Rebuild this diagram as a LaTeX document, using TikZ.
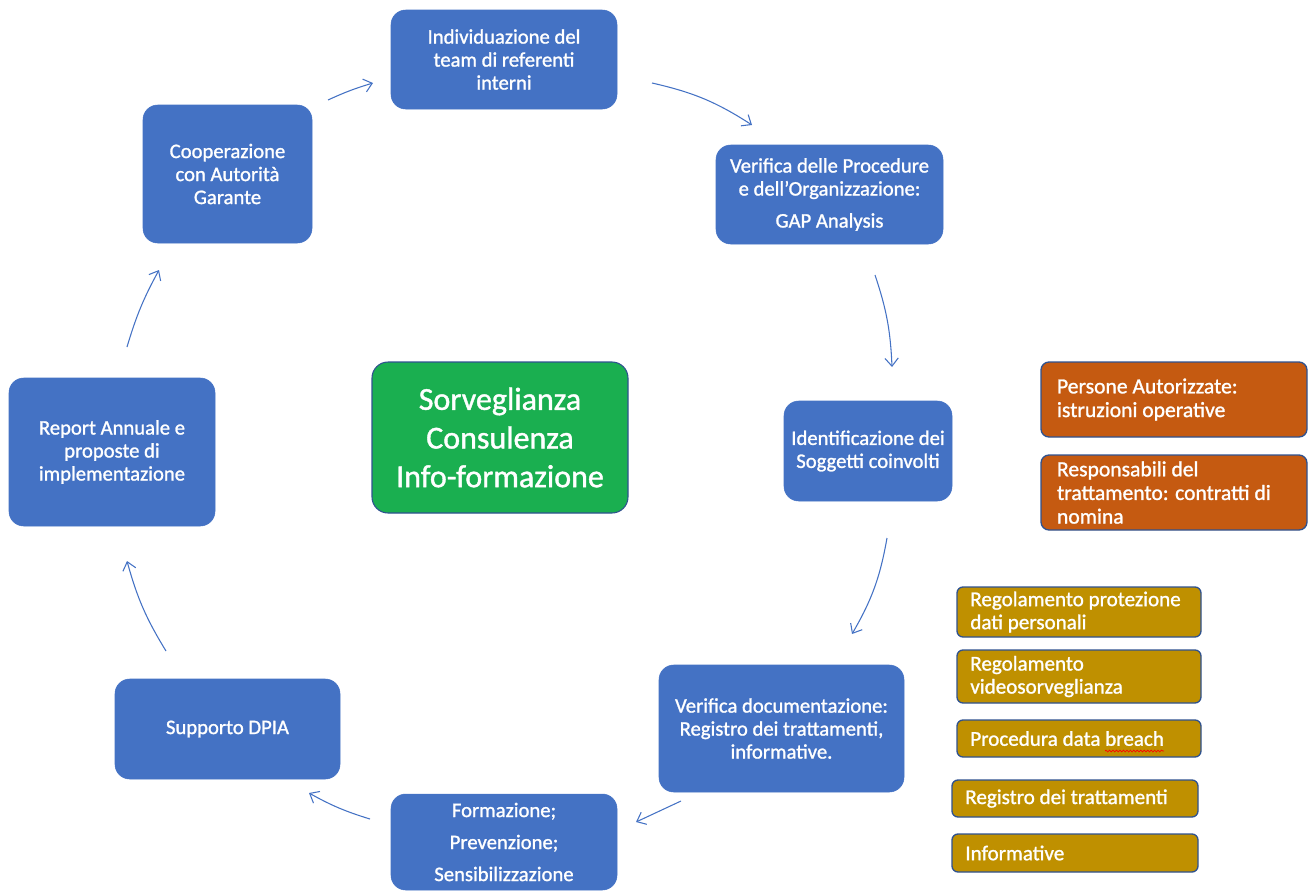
\documentclass[tikz,border=0pt]{standalone}
\usepackage{fontspec}
\setmainfont{Carlito}
\newfontfamily\boxfont[FakeBold=1.2]{Carlito}
\usetikzlibrary{arrows.meta,decorations.pathmorphing}
\definecolor{bblue}{HTML}{4472C4}
\definecolor{bline}{HTML}{2F528F}
\definecolor{ggreen}{HTML}{1AAF50}
\definecolor{oorange}{HTML}{C55A11}
\definecolor{ggold}{HTML}{BF9000}
\tikzset{
  bbox/.style={fill=bblue, draw=bblue, rounded corners=11pt, text=white, align=center,
    font=\boxfont\fontsize{15.5}{17.25}\selectfont, inner sep=2pt},
  gbox/.style={fill=ggreen, draw=bline, line width=0.8pt, rounded corners=12pt, text=white, align=center,
    font=\boxfont\fontsize{24}{29}\selectfont},
  obox/.style={fill=oorange, draw=bline, line width=1pt, rounded corners=6pt, text=white, align=flush left,
    font=\boxfont\fontsize{16.2}{17.75}\selectfont, inner xsep=12pt, inner ysep=2pt, text width=175.5pt,
    minimum width=199.5pt, execute at begin node={\spaceskip=0pt\xspaceskip=0pt}},
  kbox/.style={fill=ggold, draw=bline, line width=1pt, rounded corners=4.5pt, text=white, align=flush left,
    font=\boxfont\fontsize{15.8}{17.25}\selectfont, inner xsep=10pt, inner ysep=1pt,
    execute at begin node={\spaceskip=0pt\xspaceskip=0pt}},
  flow/.style={draw=bblue, line width=0.8pt, -{Straight Barb[length=6pt,width=10pt]}}
}
\begin{document}
\begin{tikzpicture}[x=0.75pt,y=-0.75pt]
\useasboundingbox (0,0) rectangle (1309,890);
% main cycle boxes
\node[bbox, minimum width=169.5pt, minimum height=74.25pt] (ind) at (504,59.5) {Individuazione del\\team di referenti\\interni};
\node[bbox, minimum width=170.25pt, minimum height=74.25pt] (gap) at (829.5,194.5) {Verifica delle Procedure\\e dell’Organizzazione:\\[6.75pt]GAP Analysis};
\node[bbox, minimum width=126pt, minimum height=75pt] (ident) at (868,451) {Identificazione dei\\Soggetti coinvolti};
\node[bbox, minimum width=183.75pt, minimum height=95.25pt] (vdoc) at (781.5,728.5) {Verifica documentazione:\\Registro dei trattamenti,\\informative.};
\node[bbox, minimum width=169.5pt, minimum height=72pt] (form) at (504,842) {Formazione;\\[6.75pt]Prevenzione;\\[6.75pt]Sensibilizzazione};
\node[bbox, minimum width=168.75pt, minimum height=75pt] (dpia) at (227.5,729) {Supporto DPIA};
\node[bbox, minimum width=154.5pt, minimum height=111pt] (report) at (112,452) {Report Annuale e\\proposte di\\implementazione};
\node[bbox, minimum width=126.75pt, minimum height=103.5pt] (coop) at (227.5,174) {Cooperazione\\con Autorità\\Garante};
% centre
\node[gbox, minimum width=192pt, minimum height=113.25pt] (core) at (500,437.5) {Sorveglianza\\Consulenza\\Info-formazione};
% orange side boxes
\node[obox, minimum height=56.25pt] (pers) at (1174,399.5) {Persone Autorizzate:\\istruzioni operative};
\node[obox, minimum height=56.25pt] (resp) at (1174,492.5) {Responsabili del\\trattamento: contratti di\\nomina};
% gold side boxes
\node[kbox, text width=163pt, minimum height=37.5pt] (reg1) at (1079,612) {Regolamento protezione\\dati personali};
\node[kbox, text width=163pt, minimum height=39.75pt] (reg2) at (1079,676.5) {Regolamento\\videosorveglianza};
\node[kbox, text width=163pt, minimum height=27.75pt] (proc) at (1079,738.5) {Procedura data breach};
\node[kbox, text width=164.5pt, minimum height=27.75pt] (regt) at (1075,798.5) {Registro dei trattamenti};
\node[kbox, text width=164.5pt, minimum height=28.5pt] (info) at (1075,853) {Informative};
% spell-check mark under "breach"
\coordinate (sqa) at (1105,751);
\coordinate (sqb) at (1164,751);
\draw[red, line width=0.5pt, decorate, decoration={snake, amplitude=0.7pt, segment length=2.6pt}] (sqa) -- (sqb);
% arrow end points
\coordinate (a1s) at (328,100);  \coordinate (a1e) at (373,83);
\coordinate (a2s) at (652,83);   \coordinate (a2e) at (752,125);
\coordinate (a3s) at (875,275);  \coordinate (a3e) at (892,367);
\coordinate (a4s) at (887,538);  \coordinate (a4e) at (852,634);
\coordinate (a5s) at (681,801);  \coordinate (a5e) at (636,822);
\coordinate (a6s) at (370,819);  \coordinate (a6e) at (309,793);
\coordinate (a7s) at (166,651);  \coordinate (a7e) at (127,561);
\coordinate (a8s) at (127,347);  \coordinate (a8e) at (159,270);
\draw[flow] (a1s) to[bend left=4] (a1e);
\draw[flow] (a2s) to[bend left=10] (a2e);
\draw[flow] (a3s) to[bend left=8] (a3e);
\draw[flow] (a4s) to[bend left=10] (a4e);
\draw[flow] (a5s) to (a5e);
\draw[flow] (a6s) to[bend left=6] (a6e);
\draw[flow] (a7s) to[bend left=8] (a7e);
\draw[flow] (a8s) to[bend left=6] (a8e);
\end{tikzpicture}
\end{document}
